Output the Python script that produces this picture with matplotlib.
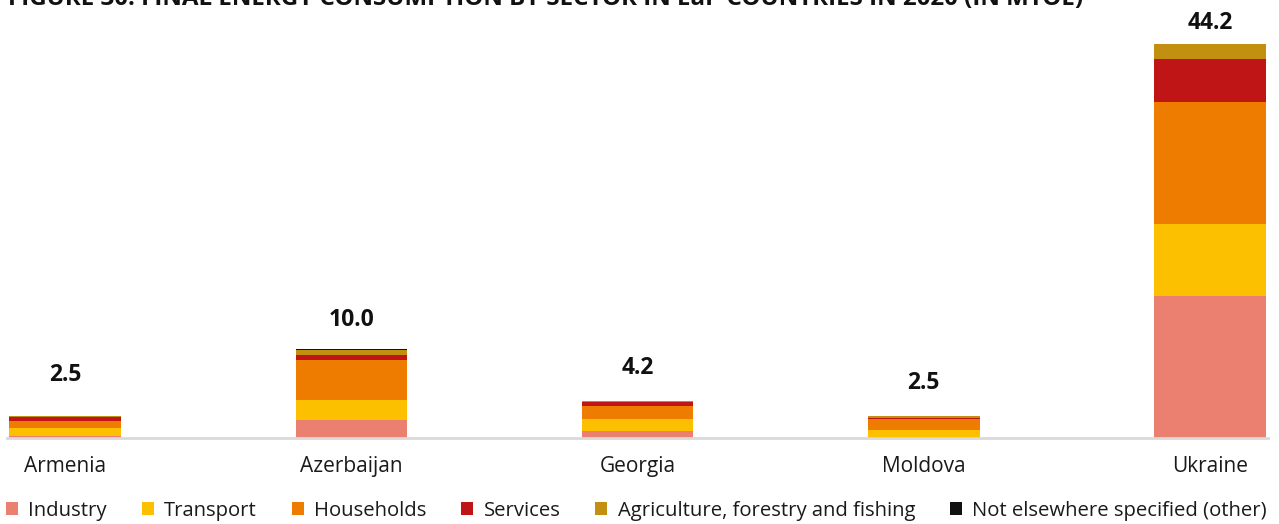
import matplotlib
matplotlib.use("Agg")
import matplotlib.pyplot as plt
from matplotlib.patches import Patch
import numpy as np

# Final energy consumption by sector, Mtoe, 2020
countries = ["Armenia", "Azerbaijan", "Georgia", "Moldova", "Ukraine"]
sectors = ["Industry", "Transport", "Households", "Services",
           "Agriculture, forestry and fishing", "Not elsewhere specified (other)"]
industry = [0.25, 2.0, 0.75, 0.10, 15.9]
transport = [0.85, 2.3, 1.40, 0.75, 8.1]
households = [0.85, 4.4, 1.45, 1.25, 13.7]
services = [0.45, 0.6, 0.45, 0.20, 4.8]
agriculture = [0.10, 0.6, 0.05, 0.15, 1.7]
other = [0.00, 0.1, 0.10, 0.05, 0.0]
totals = [2.5, 10.0, 4.2, 2.5, 44.2]

colors = ["#EC8070", "#FCC000", "#EE7C00", "#C01516", "#C38F10", "#111111"]

plt.rcParams["font.family"] = ["Open Sans", "DejaVu Sans"]

fig = plt.figure(figsize=(12.79, 5.24), dpi=100)
ax = fig.add_axes([0.0055, 0.1641, 0.9859, 0.8359])

x = np.arange(len(countries))
width = 0.39
bottom = np.zeros(len(countries))
for vals, col, name in zip([industry, transport, households, services, agriculture, other],
                           colors, sectors):
    ax.bar(x, vals, width, bottom=bottom, color=col, label=name, linewidth=0)
    bottom += np.array(vals)

# total labels above each stack
label_offsets = [41, 29, 33, 33, 21]
for xi, tot, off in zip(x, totals, label_offsets):
    ax.annotate(f"{tot:.1f}", (xi, tot), xytext=(0, off), textcoords="offset pixels",
                ha="center", va="center", fontsize=16.5, fontweight="bold", color="#111111")

ax.set_xlim(-0.203, 4.203)
ax.set_ylim(0, 49.14)
ax.set_yticks([])
for s in ["left", "right", "top"]:
    ax.spines[s].set_visible(False)
ax.spines["bottom"].set_color("#d9d9d9")
ax.spines["bottom"].set_linewidth(2)
ax.set_xticks(x)
ax.set_xticklabels(countries, fontsize=15, color="#1a1a1a")
ax.tick_params(axis="x", length=0, pad=13)

fig.text(0.006, 1.0 - 5 / 524, "FIGURE 30: FINAL ENERGY CONSUMPTION BY SECTOR IN EaP COUNTRIES IN 2020 (IN MTOE)",
         ha="left", va="baseline", fontsize=17.4, fontweight="bold", color="#111111")

handles = [Patch(facecolor=c, edgecolor="none") for c in colors]
fig.legend(handles, sectors, loc="lower left", bbox_to_anchor=(0.0, -0.006), ncol=6,
           frameon=False, fontsize=14.6, handlelength=0.6, handleheight=0.6,
           handletextpad=0.5, columnspacing=1.72, borderaxespad=0.0, borderpad=0.3,
           labelcolor="#1a1a1a")

fig.savefig("out.png", dpi=100)
